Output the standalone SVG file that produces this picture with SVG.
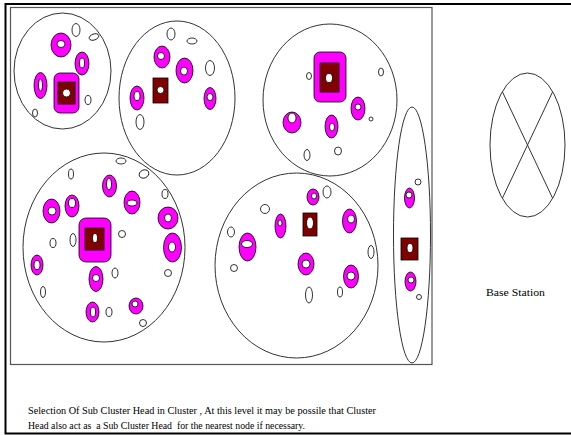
<svg xmlns="http://www.w3.org/2000/svg" width="571" height="435" viewBox="0 0 571 435">
<style>
.cl{fill:none;stroke:#333;stroke-width:1}
.m{fill:#ff00ff;stroke:#000;stroke-width:0.8}
.w{fill:#fff;stroke:#000;stroke-width:0.8}
.h{fill:#800000;stroke:#000;stroke-width:0.8}
text{font-family:'Liberation Serif','DejaVu Serif',serif;fill:#000}
</style>
<rect x="0" y="0" width="571" height="435" fill="#fff"/>
<rect x="5.5" y="4" width="570" height="429.5" fill="none" stroke="#000" stroke-width="2"/>
<rect x="10.5" y="7.5" width="421.5" height="357" fill="none" stroke="#555" stroke-width="1.2"/>
<g id="connectors"/>
<g id="cluster1">
<ellipse class="cl" cx="62.5" cy="71" rx="48.5" ry="58"/>
<ellipse class="m" cx="61" cy="45" rx="10" ry="12"/><ellipse class="w" cx="61" cy="44" rx="4" ry="3.5"/>
<ellipse class="m" cx="82" cy="63.5" rx="7" ry="11.5"/><ellipse class="w" cx="82" cy="63" rx="2.5" ry="5"/>
<ellipse class="m" cx="40.5" cy="85.5" rx="6.5" ry="13"/><ellipse class="w" cx="40.5" cy="85" rx="2" ry="6"/>
<rect class="m" x="54" y="73" width="25" height="40" rx="6"/><rect class="h" x="58" y="82" width="17" height="22"/><ellipse class="w" cx="66.5" cy="93" rx="4" ry="4"/>
<ellipse class="w" cx="76" cy="30" rx="4" ry="6.5"/>
<ellipse class="w" cx="94" cy="37" rx="5" ry="3" transform="rotate(-20 94 37)"/>
<ellipse class="w" cx="88" cy="100" rx="3" ry="4.5"/>
<ellipse class="w" cx="35" cy="113" rx="2.5" ry="4"/>
</g>
<g id="cluster2">
<ellipse class="cl" cx="177" cy="98" rx="58" ry="77"/>
<ellipse class="m" cx="162" cy="57" rx="8" ry="11"/><ellipse class="w" cx="161" cy="56" rx="3.5" ry="3.5"/>
<ellipse class="m" cx="184.5" cy="70.5" rx="8.5" ry="12.5"/><ellipse class="w" cx="184" cy="71" rx="3.5" ry="4"/>
<rect class="h" x="153" y="78" width="15" height="25"/><ellipse class="w" cx="160.5" cy="90" rx="3.5" ry="3.5"/>
<ellipse class="m" cx="137" cy="98" rx="7" ry="12"/><ellipse class="w" cx="137" cy="96" rx="3" ry="4.5"/>
<ellipse class="m" cx="210" cy="98.5" rx="6" ry="11"/><ellipse class="w" cx="210" cy="97" rx="3" ry="3.5"/>
<ellipse class="w" cx="171" cy="34" rx="4" ry="6"/>
<ellipse class="w" cx="192" cy="41" rx="5" ry="3"/>
<ellipse class="w" cx="210" cy="68" rx="4.5" ry="7.5"/>
<ellipse class="w" cx="140" cy="122" rx="4" ry="7.5"/>
</g>
<g id="cluster3">
<ellipse class="cl" cx="330" cy="100" rx="67" ry="76"/>
<rect class="m" x="314" y="52" width="32" height="50" rx="6"/><rect class="h" x="320" y="63" width="19" height="29"/><ellipse class="w" cx="329" cy="78" rx="3.5" ry="4.5"/>
<ellipse class="m" cx="292" cy="122.5" rx="9" ry="10.5"/><ellipse class="w" cx="292" cy="118" rx="4" ry="5"/>
<ellipse class="m" cx="331.5" cy="126.5" rx="6.5" ry="11.5"/><ellipse class="w" cx="332" cy="127" rx="2.5" ry="4"/>
<ellipse class="m" cx="358" cy="108.5" rx="7" ry="11.5"/><ellipse class="w" cx="358" cy="107" rx="3" ry="3"/>
<ellipse class="w" cx="309" cy="76" rx="2.5" ry="3.5"/>
<ellipse class="w" cx="381" cy="72" rx="2.5" ry="4"/>
<ellipse class="w" cx="371" cy="119" rx="2" ry="2"/>
<ellipse class="w" cx="307" cy="155" rx="3" ry="5.5"/>
<ellipse class="w" cx="338" cy="151" rx="3.5" ry="4"/>
</g>
<g id="cluster4">
<ellipse class="cl" cx="104" cy="247.5" rx="81" ry="94.5"/>
<ellipse class="m" cx="51.5" cy="211" rx="8.5" ry="12"/><ellipse class="w" cx="52" cy="211" rx="4" ry="4"/>
<ellipse class="m" cx="72" cy="206" rx="7" ry="11"/><ellipse class="w" cx="72" cy="203" rx="3.5" ry="4.5"/>
<ellipse class="m" cx="109.5" cy="186" rx="7" ry="11"/><ellipse class="w" cx="109" cy="184" rx="2.5" ry="6"/>
<ellipse class="m" cx="132" cy="202.5" rx="8" ry="11.5"/><ellipse class="w" cx="132" cy="203" rx="5" ry="3"/>
<ellipse class="m" cx="168" cy="218" rx="10" ry="11"/><ellipse class="w" cx="168" cy="218" rx="3.5" ry="4"/>
<ellipse class="m" cx="172.5" cy="247.5" rx="9" ry="14.5"/><ellipse class="w" cx="172" cy="247" rx="3.5" ry="5"/>
<rect class="m" x="79" y="218" width="32" height="44" rx="7"/><rect class="h" x="85" y="228" width="19" height="22"/><ellipse class="w" cx="95" cy="238" rx="2.5" ry="4.5"/>
<ellipse class="m" cx="37" cy="265" rx="6" ry="10"/><ellipse class="w" cx="37" cy="265" rx="3" ry="4.5"/>
<ellipse class="m" cx="96" cy="279" rx="7" ry="12.5"/><ellipse class="w" cx="96" cy="278" rx="3.5" ry="3.5"/>
<ellipse class="m" cx="92.5" cy="312" rx="6.5" ry="10"/><ellipse class="w" cx="93" cy="312" rx="2.5" ry="5"/>
<ellipse class="m" cx="136" cy="306" rx="7" ry="8"/><ellipse class="w" cx="135" cy="304" rx="3" ry="3"/>
<ellipse class="w" cx="121" cy="161" rx="5" ry="3"/>
<ellipse class="w" cx="71" cy="174" rx="2.5" ry="5"/>
<ellipse class="w" cx="144" cy="174" rx="5" ry="4" transform="rotate(-25 144 174)"/>
<ellipse class="w" cx="165" cy="194" rx="3" ry="4.5"/>
<ellipse class="w" cx="53" cy="243" rx="3" ry="4.5"/>
<ellipse class="w" cx="73" cy="240" rx="3" ry="6.5"/>
<ellipse class="w" cx="122" cy="234" rx="3.5" ry="3.5"/>
<ellipse class="w" cx="115" cy="273" rx="3" ry="5"/>
<ellipse class="w" cx="168" cy="273" rx="3.5" ry="3.5"/>
<ellipse class="w" cx="43" cy="292" rx="2.5" ry="5.5"/>
<ellipse class="w" cx="109" cy="312" rx="3" ry="4.5"/>
<ellipse class="w" cx="143" cy="323" rx="3.5" ry="3.5"/>
</g>
<g id="cluster5">
<ellipse class="cl" cx="296.5" cy="265.5" rx="81.5" ry="92.5"/>
<ellipse class="m" cx="313" cy="197" rx="6" ry="8"/><ellipse class="w" cx="314" cy="196" rx="2.5" ry="3"/>
<rect class="h" x="303" y="213" width="14" height="23"/><ellipse class="w" cx="310" cy="223" rx="3.5" ry="6"/>
<ellipse class="m" cx="280.5" cy="226" rx="5.5" ry="12"/><ellipse class="w" cx="280" cy="223" rx="2" ry="3"/>
<ellipse class="m" cx="349.5" cy="221" rx="7" ry="12"/><ellipse class="w" cx="351" cy="219" rx="3.5" ry="4"/>
<ellipse class="m" cx="247.5" cy="247" rx="8.5" ry="14"/><ellipse class="w" cx="247" cy="244" rx="5.5" ry="3.5"/>
<ellipse class="m" cx="306" cy="264" rx="8" ry="11"/><ellipse class="w" cx="306" cy="264" rx="4" ry="4"/>
<ellipse class="m" cx="351" cy="276.5" rx="7.5" ry="11.5"/><ellipse class="w" cx="351" cy="276" rx="4" ry="4"/>
<ellipse class="w" cx="265" cy="209" rx="4.5" ry="4.5"/>
<ellipse class="w" cx="231" cy="232" rx="3.5" ry="5"/>
<ellipse class="w" cx="327" cy="192" rx="4" ry="6"/>
<ellipse class="w" cx="234" cy="268" rx="3.5" ry="3.5"/>
<ellipse class="w" cx="371" cy="252" rx="3" ry="6.5"/>
<ellipse class="w" cx="309" cy="295" rx="3.5" ry="8"/>
<ellipse class="w" cx="340" cy="292" rx="2.5" ry="5"/>
</g>
<g id="cluster6">
<ellipse class="cl" cx="412" cy="235" rx="18.5" ry="128"/>
<ellipse class="m" cx="409.5" cy="198" rx="5" ry="10"/><ellipse class="w" cx="409" cy="195" rx="3" ry="3"/>
<ellipse class="w" cx="418" cy="182" rx="3" ry="3"/>
<rect class="h" x="401" y="238" width="17" height="22"/><ellipse class="w" cx="410" cy="248" rx="3" ry="4.5"/>
<ellipse class="m" cx="410.5" cy="281.5" rx="5.5" ry="9.5"/><ellipse class="w" cx="411" cy="280" rx="3" ry="3"/>
<ellipse class="w" cx="419" cy="297" rx="2.5" ry="2.5"/>
</g>
<g id="base-station">
<ellipse class="cl" cx="527.5" cy="145" rx="37.5" ry="72"/>
<line x1="502.5" y1="92" x2="552.5" y2="198" stroke="#333" stroke-width="1"/>
<line x1="552.5" y1="92" x2="502.5" y2="198" stroke="#333" stroke-width="1"/>
<text x="486" y="296" font-size="11" textLength="59" lengthAdjust="spacingAndGlyphs">Base Station</text>
</g>
<g id="caption">
<text x="28" y="414" font-size="11" textLength="348" lengthAdjust="spacingAndGlyphs">Selection Of Sub Cluster Head in Cluster , At this level it may be possile that Cluster</text>
<text x="28" y="429" font-size="11" textLength="277" lengthAdjust="spacingAndGlyphs" xml:space="preserve">Head also act as  a Sub Cluster Head  for the nearest node if necessary.</text>
</g>
</svg>
